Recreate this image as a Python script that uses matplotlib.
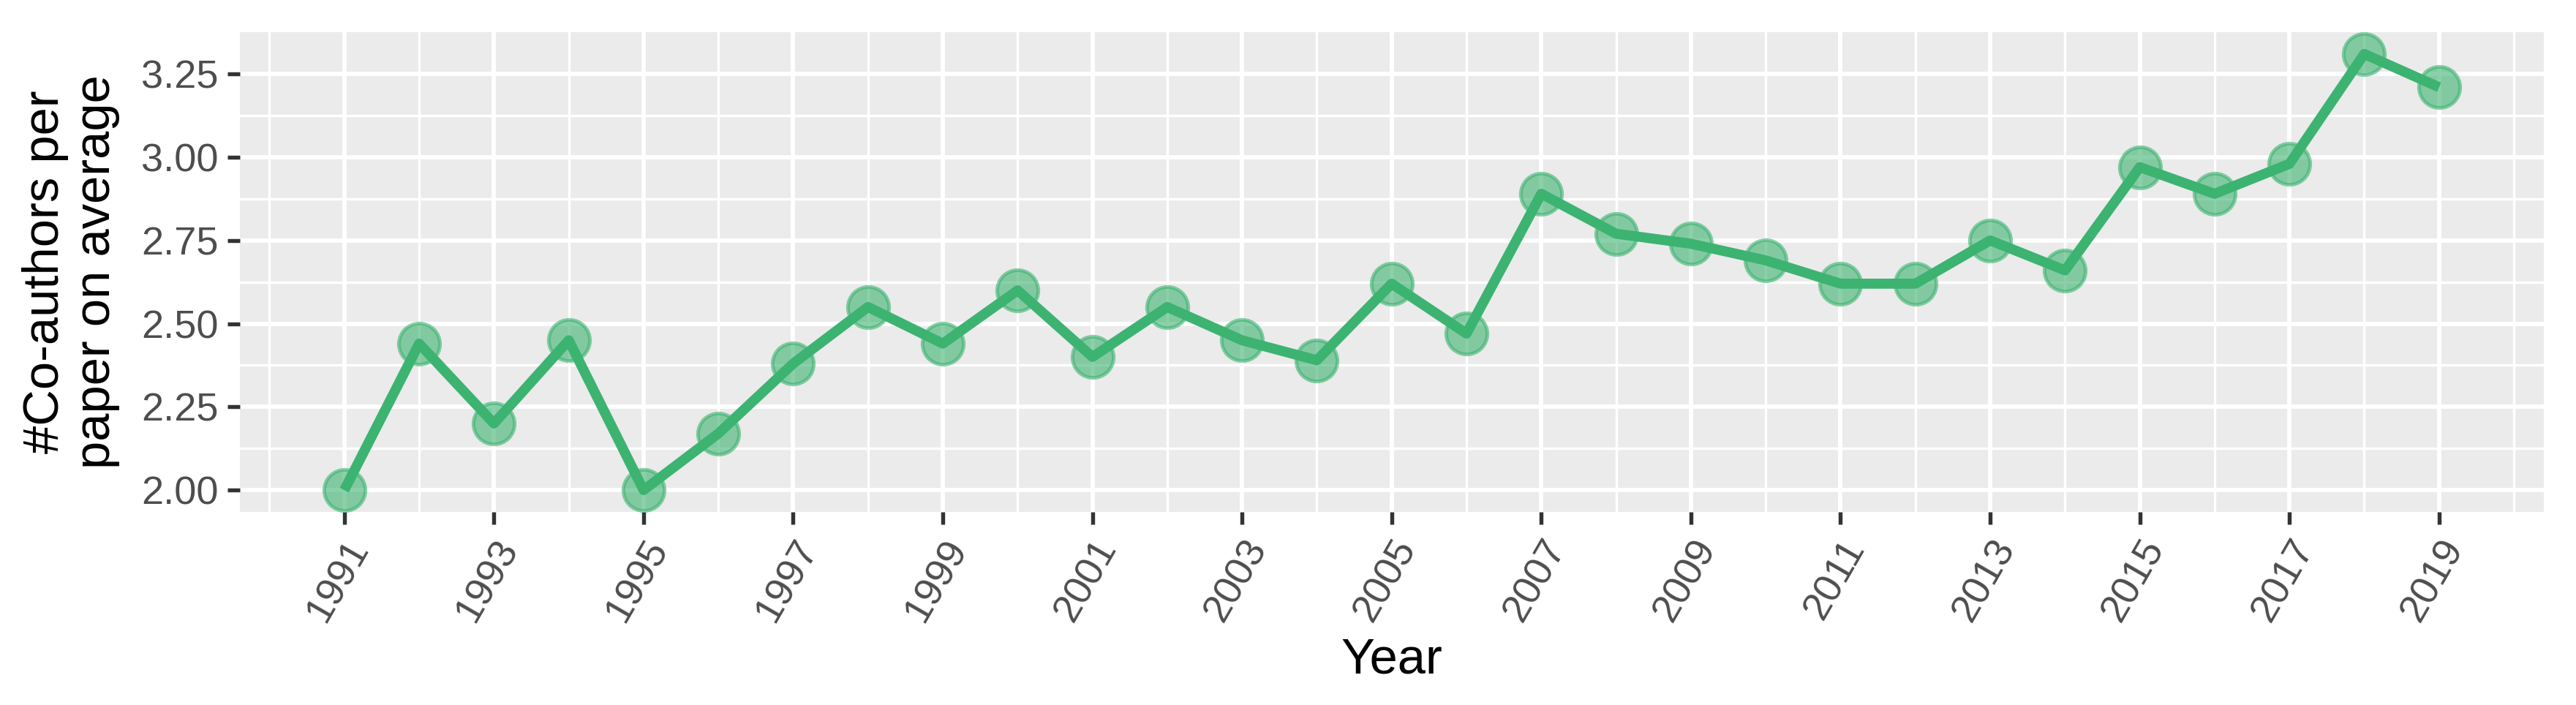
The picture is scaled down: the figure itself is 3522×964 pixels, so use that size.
import matplotlib
matplotlib.use("Agg")
import matplotlib.pyplot as plt
from matplotlib.ticker import FixedLocator

years = list(range(1991, 2020))
coauthors = [2.00, 2.44, 2.20, 2.45, 2.00, 2.17, 2.38, 2.55, 2.44, 2.60,
             2.40, 2.55, 2.45, 2.39, 2.62, 2.47, 2.89, 2.77, 2.74, 2.69,
             2.62, 2.62, 2.75, 2.66, 2.97, 2.89, 2.98, 3.31, 3.21]
xtick_years = list(range(1991, 2020, 2))
ytick_vals = [2.00, 2.25, 2.50, 2.75, 3.00, 3.25]

plt.rcParams['font.family'] = ['Liberation Sans', 'DejaVu Sans']

fig = plt.figure(figsize=(3522/300, 964/300), dpi=300)
ax = fig.add_axes([0.093, 0.2739, 0.9875-0.093, 0.9544-0.2739])

ax.set_facecolor('#EBEBEB')
for s in ax.spines.values():
    s.set_visible(False)

green = '#3CB371'
ax.plot(years, coauthors, color=green, lw=3.3, zorder=3, solid_capstyle='butt')
ax.plot(years, coauthors, 'o', ms=13.5, mfc=(60/255, 179/255, 113/255, 0.6),
        mec=(60/255, 179/255, 113/255, 0.6), mew=1.2, zorder=4, ls='none')

xmin, xmax = min(years), max(years)
xr = xmax - xmin
ax.set_xlim(xmin - 0.05*xr, xmax + 0.05*xr)
ymin, ymax = min(coauthors), max(coauthors)
yr = ymax - ymin
ax.set_ylim(ymin - 0.05*yr, ymax + 0.05*yr)

ax.set_xticks(xtick_years)
ax.set_xticklabels([str(y) for y in xtick_years])
ax.xaxis.set_minor_locator(FixedLocator([y + 1 for y in xtick_years[:-1]] + [1990, 2020]))
ax.set_yticks(ytick_vals)
ax.set_yticklabels([f"{v:.2f}" for v in ytick_vals])
ax.yaxis.set_minor_locator(FixedLocator([2.125, 2.375, 2.625, 2.875, 3.125]))

ax.grid(which='major', color='white', lw=1.4, zorder=0)
ax.grid(which='minor', color='white', lw=0.8, zorder=0)
ax.set_axisbelow(True)

ax.tick_params(axis='both', which='major', length=4, width=1.3, color='#333333',
               labelsize=13, labelcolor='#4D4D4D', pad=3)
ax.tick_params(axis='both', which='minor', length=0)

for lab in ax.get_xticklabels():
    lab.set_rotation(60)
    lab.set_ha('right')
    lab.set_va('top')
    lab.set_rotation_mode('anchor')

ax.set_xlabel('Year', fontsize=16.5, color='black', labelpad=3)
ax.set_ylabel('#Co-authors per\npaper on average', fontsize=16.5, color='black',
              labelpad=7, linespacing=1.12)

fig.savefig('out.png', dpi=300, facecolor='white')
